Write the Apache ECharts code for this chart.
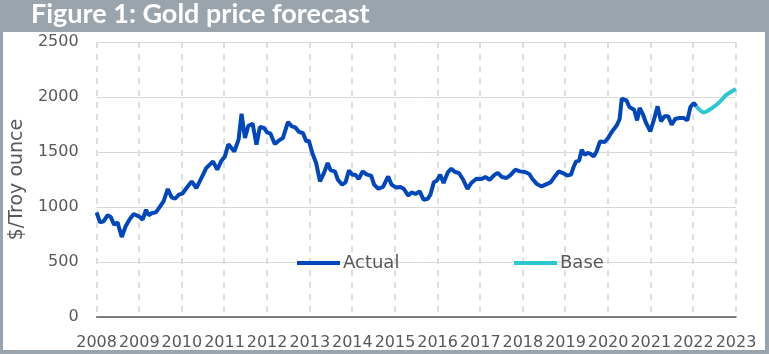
<!DOCTYPE html>
<html>
<head>
<meta charset="utf-8">
<script src="https://cdn.jsdelivr.net/npm/echarts@6/dist/echarts.min.js"></script>
<style>
  html, body { margin: 0; padding: 0; background: #fff; }
  #chart { width: 769px; height: 354px; }
</style>
</head>
<body>
<div id="chart"></div>
<script>
// values (x in decimal years)
const actualYears = [
  2008.00, 2008.08, 2008.16, 2008.26, 2008.33, 2008.41, 2008.49, 2008.59, 2008.68, 2008.78, 2008.87, 2008.99,
  2009.08, 2009.16, 2009.22, 2009.30, 2009.39, 2009.49, 2009.57, 2009.67, 2009.76, 2009.84, 2009.93,
  2010.01, 2010.11, 2010.23, 2010.34, 2010.46, 2010.57, 2010.73, 2010.83, 2010.92,
  2011.01, 2011.09, 2011.23, 2011.33, 2011.40, 2011.48, 2011.56, 2011.66, 2011.75, 2011.83, 2011.93,
  2012.00, 2012.08, 2012.18, 2012.27, 2012.37, 2012.49, 2012.58, 2012.66, 2012.75, 2012.84, 2012.92, 2012.98,
  2013.06, 2013.15, 2013.24, 2013.34, 2013.42, 2013.49, 2013.59, 2013.66, 2013.76, 2013.84, 2013.92,
  2014.00, 2014.07, 2014.15, 2014.24, 2014.34, 2014.44, 2014.51, 2014.61, 2014.72, 2014.84, 2014.92,
  2015.02, 2015.13, 2015.21, 2015.31, 2015.39, 2015.48, 2015.58, 2015.67, 2015.77, 2015.83, 2015.91, 2015.98,
  2016.06, 2016.14, 2016.24, 2016.32, 2016.41, 2016.50, 2016.60, 2016.70, 2016.79, 2016.91,
  2017.03, 2017.12, 2017.22, 2017.34, 2017.41, 2017.51, 2017.62, 2017.72, 2017.82, 2017.93,
  2018.05, 2018.15, 2018.22, 2018.32, 2018.44, 2018.53, 2018.65, 2018.75, 2018.84, 2018.94,
  2019.04, 2019.13, 2019.19, 2019.25, 2019.32, 2019.38, 2019.45, 2019.52, 2019.58, 2019.66, 2019.73, 2019.81, 2019.92,
  2020.00, 2020.08, 2020.20, 2020.27, 2020.32, 2020.43, 2020.50, 2020.61, 2020.68, 2020.74, 2020.82, 2020.89, 2020.99,
  2021.08, 2021.16, 2021.24, 2021.32, 2021.41, 2021.49, 2021.58, 2021.68, 2021.78, 2021.86, 2021.93,
  2022.01, 2022.07
]
const actualPrices = [
  950, 860, 870, 925, 910, 840, 860, 727, 824, 891, 936, 915,
  885, 975, 925, 945, 951, 1005, 1051, 1164, 1087, 1075, 1112,
  1121, 1173, 1233, 1173, 1264, 1354, 1415, 1339, 1415,
  1460, 1570, 1505, 1612, 1848, 1627, 1739, 1757, 1566, 1727, 1718,
  1678, 1666, 1573, 1603, 1627, 1773, 1733, 1724, 1682, 1673, 1596, 1603,
  1491, 1400, 1233, 1315, 1400, 1333, 1324, 1248, 1203, 1224, 1333,
  1294, 1294, 1255, 1324, 1294, 1285, 1203, 1166, 1182, 1278, 1203,
  1178, 1182, 1164, 1103, 1133, 1118, 1142, 1066, 1075, 1112, 1224, 1239,
  1294, 1218, 1315, 1348, 1318, 1309, 1248, 1164, 1218, 1257,
  1254, 1273, 1248, 1294, 1310, 1273, 1264, 1294, 1339, 1324,
  1318, 1300, 1257, 1212, 1187, 1203, 1224, 1278, 1324, 1309,
  1287, 1294, 1364, 1415, 1421, 1521, 1475, 1491, 1485, 1460, 1505, 1596, 1591,
  1627, 1680, 1740, 1800, 1985, 1969, 1909, 1884, 1787, 1900, 1839, 1764, 1687,
  1800, 1915, 1778, 1824, 1824, 1748, 1803, 1809, 1809, 1787, 1909,
  1945, 1915
]
const baseYears = [2022.07, 2022.24, 2022.46, 2022.63, 2022.78, 2023.00]
const basePrices = [1915, 1860, 1905, 1960, 2021, 2073]

// year ticks on the x axis
const yearTicks = [2008, 2009, 2010, 2011, 2012, 2013, 2014, 2015, 2016, 2017, 2018, 2019, 2020, 2021, 2022, 2023]

const titleText = 'Figure 1: Gold price forecast'
const yAxisName = '$/Troy ounce'

const pair = (xs, ys) => xs.map((x, i) => [x, ys[i]])

const frame = '#9AA4AD'
const textColor = '#595959'
const font = '"DejaVu Sans", sans-serif'
const yMin = 0
const yMax = 2500

const chart = echarts.init(document.getElementById('chart'))

// dashed vertical gridline per year, placed through the axis scale
function renderYearLine(params, api) {
  const top = api.coord([api.value(0), yMax])
  const bottom = api.coord([api.value(0), yMin])
  return {
    type: 'line',
    shape: { x1: Math.round(top[0]), y1: top[1], x2: Math.round(bottom[0]), y2: bottom[1] },
    style: { stroke: '#DDDFDF', lineWidth: 2, lineDash: [6, 6] }
  }
}

const option = {
  animation: false,
  backgroundColor: '#fff',
  title: {
    text: titleText,
    left: 31,
    top: 1,
    padding: 0,
    textStyle: { color: '#fff', fontSize: 27, fontWeight: 'bold', fontFamily: 'Lato, sans-serif' }
  },
  graphic: [
    { type: 'rect', shape: { x: 0, y: 0, width: 769, height: 32 }, style: { fill: frame }, z: -1 },
    { type: 'rect', shape: { x: 0, y: 0, width: 3, height: 354 }, style: { fill: frame }, z: -1 },
    { type: 'rect', shape: { x: 765, y: 0, width: 4, height: 354 }, style: { fill: frame }, z: -1 },
    { type: 'rect', shape: { x: 0, y: 350, width: 769, height: 4 }, style: { fill: frame }, z: -1 }
  ],
  legend: [
    {
      data: ['Actual'],
      left: 297, top: 254, padding: 0,
      icon: 'rect', itemWidth: 43, itemHeight: 4, itemGap: 0,
      textStyle: { color: textColor, fontSize: 18, fontFamily: font, padding: [0, 0, 0, -2] }
    },
    {
      data: ['Base'],
      left: 514, top: 254, padding: 0,
      icon: 'rect', itemWidth: 43, itemHeight: 4, itemGap: 0,
      textStyle: { color: textColor, fontSize: 18, fontFamily: font, padding: [0, 0, 0, -2] }
    }
  ],
  grid: { left: 89, right: 33, top: 42, bottom: 37, containLabel: false },
  xAxis: {
    type: 'value',
    min: 2008,
    max: 2023,
    interval: 1,
    axisLine: { show: true, onZero: false, lineStyle: { color: '#595959', width: 1.5 } },
    axisTick: { show: false },
    axisLabel: {
      color: textColor, fontSize: 16, fontFamily: font, margin: 18,
      formatter: v => String(v)
    },
    splitLine: { show: false }
  },
  yAxis: {
    type: 'value',
    min: yMin,
    max: yMax,
    interval: 500,
    name: yAxisName,
    nameLocation: 'middle',
    nameGap: 57,
    nameTextStyle: { color: textColor, fontSize: 19, fontFamily: font },
    axisLine: { show: false },
    axisTick: { show: false },
    axisLabel: { color: textColor, fontSize: 16, fontFamily: font, margin: 18, formatter: v => String(v) },
    splitLine: { lineStyle: { color: '#D9D9D9', width: 1 } }
  },
  series: [
    {
      name: 'grid years',
      type: 'custom',
      silent: true,
      clip: false,
      z: 1,
      renderItem: renderYearLine,
      encode: { x: 0, y: 1 },
      data: yearTicks.map(y => [y, yMin])
    },
    {
      name: 'Actual',
      type: 'line',
      data: pair(actualYears, actualPrices),
      showSymbol: false,
      symbol: 'none',
      color: '#0047BB',
      lineStyle: { width: 4, color: '#0047BB' },
      z: 3
    },
    {
      name: 'Base',
      type: 'line',
      data: pair(baseYears, basePrices),
      showSymbol: false,
      symbol: 'none',
      smooth: 0.3,
      color: '#2BC8D2',
      lineStyle: { width: 4, color: '#2BC8D2' },
      z: 3
    }
  ]
}

chart.setOption(option)
</script>
</body>
</html>
